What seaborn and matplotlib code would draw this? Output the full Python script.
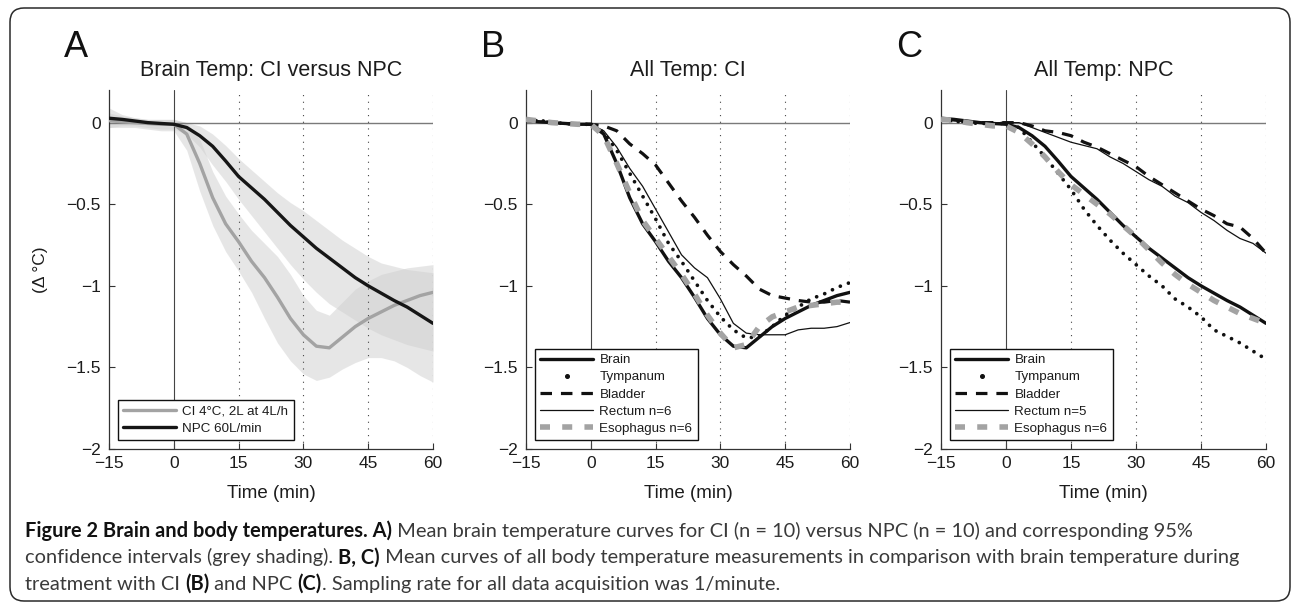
import numpy as np
import pandas as pd
import matplotlib
matplotlib.use("Agg")
import matplotlib.pyplot as plt
import seaborn as sns
from matplotlib.lines import Line2D
from matplotlib.patches import FancyBboxPatch
from matplotlib.transforms import IdentityTransform

# ---------------- data ----------------
time_min = [-15, -12, -9, -6, -3, 0, 3, 6, 9, 12, 15, 18, 21, 24, 27, 30,
            33, 36, 39, 42, 45, 48, 51, 54, 57, 60]

# Brain temperature, cold infusion (CI)
brain_ci = [0.012, 0.005, 0.0, -0.005, -0.01, -0.01, -0.07, -0.25, -0.46, -0.62,
            -0.73, -0.85, -0.95, -1.07, -1.20, -1.30, -1.37, -1.38, -1.315, -1.25,
            -1.20, -1.16, -1.12, -1.09, -1.06, -1.04]
brain_ci_lo = [-0.03, -0.03, -0.03, -0.04, -0.05, -0.05, -0.17, -0.42, -0.63, -0.79,
               -0.91, -1.04, -1.20, -1.35, -1.46, -1.54, -1.58, -1.56, -1.51, -1.47,
               -1.44, -1.44, -1.46, -1.50, -1.55, -1.59]
brain_ci_hi = [0.09, 0.05, 0.03, 0.02, 0.02, 0.02, 0.0, -0.10, -0.30, -0.45,
               -0.56, -0.66, -0.74, -0.82, -0.93, -1.06, -1.15, -1.18, -1.10, -1.02,
               -0.97, -0.93, -0.91, -0.89, -0.88, -0.87]

# Brain temperature, nasopharyngeal cooling (NPC)
brain_npc = [0.027, 0.02, 0.01, 0.0, -0.005, -0.01, -0.03, -0.08, -0.145, -0.235,
             -0.33, -0.40, -0.47, -0.55, -0.63, -0.70, -0.77, -0.83, -0.89, -0.95,
             -1.00, -1.045, -1.09, -1.13, -1.18, -1.23]
brain_npc_lo = [-0.03, -0.02, -0.02, -0.03, -0.04, -0.04, -0.07, -0.15, -0.26, -0.36,
                -0.47, -0.57, -0.67, -0.77, -0.87, -0.96, -1.04, -1.11, -1.16, -1.21,
                -1.26, -1.30, -1.33, -1.36, -1.38, -1.40]
brain_npc_hi = [0.06, 0.04, 0.03, 0.02, 0.02, 0.02, 0.0, -0.02, -0.07, -0.14,
                -0.22, -0.29, -0.36, -0.43, -0.49, -0.54, -0.60, -0.66, -0.72, -0.77,
                -0.82, -0.86, -0.88, -0.90, -0.91, -0.92]

# Body temperatures, CI
tympanum_ci = [0.02, 0.015, 0.0, -0.005, -0.01, -0.01, -0.06, -0.17, -0.31, -0.45,
               -0.59, -0.74, -0.85, -0.97, -1.09, -1.19, -1.27, -1.32, -1.31, -1.25,
               -1.18, -1.13, -1.08, -1.05, -1.01, -0.98]
bladder_ci = [0.02, 0.01, 0.0, -0.005, -0.01, -0.01, -0.02, -0.05, -0.13, -0.19,
              -0.26, -0.37, -0.48, -0.58, -0.69, -0.79, -0.87, -0.94, -1.02, -1.06,
              -1.075, -1.09, -1.10, -1.10, -1.09, -1.10]
rectum_ci = [0.02, 0.01, 0.0, -0.005, -0.01, -0.01, -0.05, -0.15, -0.28, -0.39,
             -0.53, -0.67, -0.81, -0.89, -0.95, -1.08, -1.23, -1.29, -1.30, -1.30,
             -1.30, -1.27, -1.26, -1.26, -1.25, -1.225]
esophagus_ci = [0.02, 0.01, 0.0, -0.005, -0.01, -0.01, -0.08, -0.25, -0.43, -0.60,
                -0.71, -0.82, -0.93, -1.05, -1.18, -1.29, -1.38, -1.36, -1.25, -1.19,
                -1.16, -1.13, -1.12, -1.11, -1.10, -1.10]

# Body temperatures, NPC
tympanum_npc = [0.02, 0.01, 0.0, -0.005, -0.005, -0.005, -0.03, -0.12, -0.21, -0.31,
                -0.41, -0.53, -0.63, -0.72, -0.80, -0.87, -0.94, -1.00, -1.08, -1.13,
                -1.19, -1.27, -1.31, -1.35, -1.40, -1.45]
bladder_npc = [0.02, 0.01, 0.005, 0.0, 0.0, 0.0, 0.0, -0.02, -0.05, -0.06,
               -0.08, -0.12, -0.15, -0.19, -0.23, -0.27, -0.33, -0.38, -0.43, -0.48,
               -0.53, -0.57, -0.62, -0.64, -0.71, -0.80]
rectum_npc = [0.02, 0.01, 0.005, 0.0, 0.0, 0.0, 0.0, -0.03, -0.06, -0.09,
              -0.12, -0.14, -0.16, -0.21, -0.25, -0.30, -0.35, -0.39, -0.45, -0.49,
              -0.55, -0.60, -0.66, -0.71, -0.74, -0.80]
esophagus_npc = [0.02, 0.015, 0.0, -0.01, -0.02, -0.02, -0.06, -0.13, -0.21, -0.30,
                 -0.38, -0.44, -0.50, -0.56, -0.63, -0.70, -0.78, -0.86, -0.93, -0.99,
                 -1.04, -1.09, -1.13, -1.17, -1.20, -1.23]

panel_letters = ["A", "B", "C"]
panel_titles = ["Brain Temp: CI versus NPC", "All Temp: CI", "All Temp: NPC"]
legend_a = ["CI 4\u00b0C, 2L at 4L/h", "NPC 60L/min"]
legend_b = ["Brain", "Tympanum", "Bladder", "Rectum n=6", "Esophagus n=6"]
legend_c = ["Brain", "Tympanum", "Bladder", "Rectum n=5", "Esophagus n=6"]
x_ticks = [-15, 0, 15, 30, 45, 60]
x_tick_labels = ["\u221215", "0", "15", "30", "45", "60"]
y_ticks = [-2, -1.5, -1, -0.5, 0]
y_tick_labels = ["\u22122", "\u22121.5", "\u22121", "\u22120.5", "0"]
grid_x = [15, 30, 45, 60]
x_label = "Time (min)"
y_label = "(\u0394 \u00b0C)"

caption_lines = [
    [("Figure 2 Brain and body temperatures. A)", "bold"),
     (" Mean brain temperature curves for CI (n = 10) versus NPC (n = 10) and corresponding 95%", "normal")],
    [("confidence intervals (grey shading). ", "normal"), ("B, C)", "bold"),
     (" Mean curves of all body temperature measurements in comparison with brain temperature during", "normal")],
    [("treatment with CI ", "normal"), ("(B)", "bold"), (" and NPC ", "normal"), ("(C)", "bold"),
     (". Sampling rate for all data acquisition was 1/minute.", "normal")],
]

# ---------------- style ----------------
sns.set_theme(style="ticks")
plt.rcParams["font.family"] = ["Liberation Sans", "DejaVu Sans"]
plt.rcParams["axes.unicode_minus"] = True

W, H = 1293, 604
fig = plt.figure(figsize=(W / 100, H / 100), dpi=100)
fig.patch.set_facecolor("white")

def rect(l, r, t, b):
    return [l / W, 1 - b / H, (r - l) / W, (b - t) / H]

TXT = "#1c1c1c"
GREY_LINE = "#a3a3a3"
BAND = "#cfcfcf"

axes_px = [(109, 433), (526, 850), (941, 1266)]
AX_TOP, AX_BOT = 90, 449
axes = [fig.add_axes(rect(l, r, AX_TOP, AX_BOT)) for (l, r) in axes_px]

for i, ax in enumerate(axes):
    ax.set_xlim(-15, 60)
    ax.set_ylim(-2, 0.2)
    for s in ["top", "right"]:
        ax.spines[s].set_visible(False)
    for s in ["left", "bottom"]:
        ax.spines[s].set_color("#333333")
        ax.spines[s].set_linewidth(0.9)
    ax.set_xticks(x_ticks)
    ax.set_xticklabels(x_tick_labels)
    ax.set_yticks(y_ticks)
    ax.set_yticklabels(y_tick_labels)
    ax.tick_params(direction="in", length=4, width=0.8, colors="#333333",
                   labelcolor=TXT, labelsize=12.5)
    ax.tick_params(axis="x", pad=5)
    ax.tick_params(axis="y", pad=6)
    # reference lines
    ax.axhline(0, color="#7a7a7a", lw=1.0, zorder=1.2)
    ax.axvline(0, color="#444444", lw=0.8, zorder=1.2)
    for gx in grid_x:
        ax.axvline(gx, color="#444444", lw=0.8, linestyle=(0, (1, 5)), zorder=1.2)
    cx = (axes_px[i][0] + axes_px[i][1]) / 2
    fig.text(cx / W, 1 - 76 / H, panel_titles[i], ha="center", va="baseline",
             fontsize=15.5, color=TXT)
    fig.text(cx / W, 1 - 494 / H, x_label, ha="center", va="center",
             fontsize=13.5, color=TXT)
    fig.text((axes_px[i][0] - 45) / W, 1 - 57 / H, panel_letters[i], ha="left",
             va="baseline", fontsize=26, color="#111111")

fig.text(41 / W, 1 - 270 / H, y_label, rotation=90, ha="center", va="center",
         fontsize=12.5, color=TXT)

# ---------------- panel A ----------------
axA = axes[0]
axA.fill_between(time_min, brain_ci_lo, brain_ci_hi, color=BAND, alpha=0.5, lw=0, zorder=1)
axA.fill_between(time_min, brain_npc_lo, brain_npc_hi, color=BAND, alpha=0.5, lw=0, zorder=1)
sns.lineplot(x=time_min, y=brain_ci, ax=axA, color=GREY_LINE, linewidth=2.4,
             errorbar=None, zorder=3)
sns.lineplot(x=time_min, y=brain_npc, ax=axA, color="#161616", linewidth=2.4,
             errorbar=None, zorder=3)

# ---------------- panels B, C ----------------
DOTS = (0, (0.01, 2.3))
DASH = (0, (3.6, 2.8))
ESO_DASH = (0, (1.8, 2.2))

def body_panel(ax, brain, tymp, blad, rect_, eso):
    sns.lineplot(x=time_min, y=brain, ax=ax, color="#111111", linewidth=2.4,
                 errorbar=None, zorder=3)
    sns.lineplot(x=time_min, y=tymp, ax=ax, color="#111111", linewidth=2.7,
                 linestyle=DOTS, dash_capstyle="round", errorbar=None, zorder=3)
    sns.lineplot(x=time_min, y=blad, ax=ax, color="#111111", linewidth=2.3,
                 linestyle=DASH, errorbar=None, zorder=3)
    sns.lineplot(x=time_min, y=rect_, ax=ax, color="#111111", linewidth=0.9,
                 errorbar=None, zorder=3)
    sns.lineplot(x=time_min, y=eso, ax=ax, color=GREY_LINE, linewidth=4.0,
                 linestyle=ESO_DASH, errorbar=None, zorder=3)

body_panel(axes[1], brain_ci, tympanum_ci, bladder_ci, rectum_ci, esophagus_ci)
body_panel(axes[2], brain_npc, tympanum_npc, bladder_npc, rectum_npc, esophagus_npc)

for ax in axes:
    ax.set_xlabel("")
    ax.set_ylabel("")

# ---------------- legends ----------------
leg_kw = dict(loc="lower left", fontsize=9.6, frameon=True, fancybox=False,
              framealpha=1, edgecolor="#111111", borderaxespad=0.68,
              handlelength=4.0, handletextpad=0.45, labelspacing=0.36,
              borderpad=0.38, labelcolor=TXT)
hA = [Line2D([], [], color=GREY_LINE, lw=2.4), Line2D([], [], color="#161616", lw=2.4)]
legA = axA.legend(hA, legend_a, **leg_kw)

def body_handles():
    return [Line2D([], [], color="#111111", lw=2.4),
            Line2D([], [], color="#111111", ls="none", marker="o", markersize=2.6),
            Line2D([], [], color="#111111", lw=2.3, linestyle=DASH),
            Line2D([], [], color="#111111", lw=0.9),
            Line2D([], [], color=GREY_LINE, lw=4.0, linestyle=ESO_DASH)]

legB = axes[1].legend(body_handles(), legend_b, **leg_kw)
legC = axes[2].legend(body_handles(), legend_c, **leg_kw)
for lg in (legA, legB, legC):
    lg.get_frame().set_linewidth(1.0)
    lg.set_zorder(10)

# ---------------- border ----------------
border = FancyBboxPatch((10, 3), 1280, 593, boxstyle="round,pad=0,rounding_size=14",
                        transform=IdentityTransform(), fill=False,
                        edgecolor="#2a2a2a", linewidth=1.1)
fig.add_artist(border)

# ---------------- caption ----------------
CAP_FONT = ["Lato", "DejaVu Sans"]
fig.canvas.draw()
renderer = fig.canvas.get_renderer()

def seg_width(s, weight, size):
    t1 = fig.text(0, 0, "|" + s + "|", fontsize=size, fontweight=weight, family=CAP_FONT)
    t2 = fig.text(0, 0, "||", fontsize=size, fontweight=weight, family=CAP_FONT)
    w = t1.get_window_extent(renderer).width - t2.get_window_extent(renderer).width
    t1.remove()
    t2.remove()
    return w

base = 10.0
w1 = sum(seg_width(s, wt, base) for s, wt in caption_lines[0])
w2 = sum(seg_width(s, wt, base) for s, wt in caption_lines[1])
cap_size = base * 0.5 * ((1227 - 25) / w2 + (1203 - 25) / w1)

baselines = [537, 563.5, 590]
for line, yb in zip(caption_lines, baselines):
    x = 25.0
    for s, wt in line:
        col = "#111111" if wt == "bold" else "#3a3a3a"
        fig.text(x / W, 1 - yb / H, s, fontsize=cap_size, fontweight=wt,
                 family=CAP_FONT, color=col, ha="left", va="baseline")
        x += seg_width(s, wt, cap_size)

fig.savefig("out.png", dpi=100, facecolor="white")
